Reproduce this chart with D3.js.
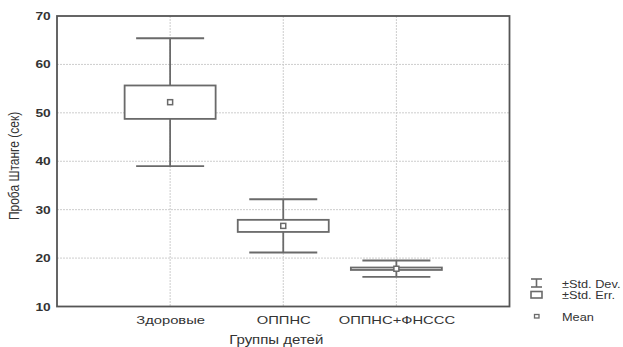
<!DOCTYPE html>
<html><head><meta charset="utf-8">
<script src="https://cdn.jsdelivr.net/npm/d3@7"></script>
<style>body{margin:0;background:#fff}text{font-family:"Liberation Sans",Arial,sans-serif}</style>
</head><body><svg id="c" width="623" height="347"></svg>
<script>
const categories = ["Здоровые", "ОППНС", "ОППНС+ФНССС"];
const means = [52.2, 26.65, 17.8];
const stdErr = [3.45, 1.25, 0.25];
const stdDev = [13.2, 5.5, 1.7];
const yTicks = [10, 20, 30, 40, 50, 60, 70];
const legendLabels = ["±Std. Dev.", "±Std. Err.", "Mean"];

const svg = d3.select("#c");
const L = 57, R = 509.5, T = 16, B = 306.5;
const SX = 1.25; // horizontal text stretch seen in the reference
const x = d3.scalePoint().domain(categories).range([L, R]).padding(1);
const y = d3.scaleLinear().domain([10, 70]).range([B, T]);
const col = "#6a6a6a";
const txt = "#333";

// grid
svg.append("g").selectAll("line").data(yTicks.slice(1, -1)).join("line")
  .attr("x1", L).attr("x2", R).attr("y1", d => y(d)).attr("y2", d => y(d))
  .attr("stroke", "#cdcdcd").attr("stroke-dasharray", "2,1").attr("stroke-width", 1);
svg.append("g").selectAll("line").data(categories).join("line")
  .attr("x1", d => x(d)).attr("x2", d => x(d)).attr("y1", T).attr("y2", B)
  .attr("stroke", "#cdcdcd").attr("stroke-dasharray", "2,1").attr("stroke-width", 1);

// axes
const ya = svg.append("g").attr("transform", `translate(${L},0)`)
  .call(d3.axisLeft(y).tickValues(yTicks).tickSize(0).tickPadding(5));
ya.select(".domain").remove();
ya.selectAll("text").attr("font-size", 11).attr("fill", txt).attr("font-weight", "bold")
  .attr("font-family", "Liberation Sans, Arial, sans-serif").attr("transform", `scale(${SX},1)`);
const xa = svg.append("g").attr("transform", `translate(0,${B})`)
  .call(d3.axisBottom(x).tickSize(0).tickPadding(9));
xa.select(".domain").remove();
xa.selectAll("text").attr("font-size", 11.8).attr("fill", txt)
  .attr("font-family", "Liberation Sans, Arial, sans-serif").attr("transform", `scale(${SX},1)`);

// frame
svg.append("rect").attr("x", L).attr("y", T).attr("width", R - L).attr("height", B - T)
  .attr("fill", "none").attr("stroke", "#555").attr("stroke-width", 1.8);

const data = categories.map((c, i) => ({c, m: means[i], se: stdErr[i], sd: stdDev[i]}));
const g = svg.append("g");
const capW = 68, boxW = 91;
data.forEach(d => {
  const cx = x(d.c);
  g.append("line").attr("x1", cx).attr("x2", cx).attr("y1", y(d.m + d.sd)).attr("y2", y(d.m - d.sd))
    .attr("stroke", col).attr("stroke-width", 1.8);
  [d.m + d.sd, d.m - d.sd].forEach(v => g.append("line").attr("x1", cx - capW / 2).attr("x2", cx + capW / 2)
    .attr("y1", y(v)).attr("y2", y(v)).attr("stroke", col).attr("stroke-width", 1.8));
  g.append("rect").attr("x", cx - boxW / 2).attr("width", boxW)
    .attr("y", y(d.m + d.se)).attr("height", Math.max(0.5, y(d.m - d.se) - y(d.m + d.se)))
    .attr("fill", "#fff").attr("stroke", col).attr("stroke-width", 1.8);
  g.append("rect").attr("x", cx - 2.5).attr("y", y(d.m) - 2.5).attr("width", 5).attr("height", 5)
    .attr("fill", "#fff").attr("stroke", col).attr("stroke-width", 1.5);
});

// axis titles
svg.append("text").attr("transform", `translate(${x(categories[1]) - 7},344) scale(${SX},1)`).attr("text-anchor", "middle")
  .attr("font-size", 12).attr("fill", txt).text("Группы детей");
svg.append("text").attr("transform", `translate(19,166) scale(${SX},1) rotate(-90)`).attr("text-anchor", "middle")
  .attr("font-size", 12).attr("fill", txt).text("Проба Штанге (сек)");

// legend
const lg = svg.append("g");
const lx = 531, lw = 11;
lg.append("line").attr("x1", lx).attr("x2", lx + lw).attr("y1", 279).attr("y2", 279).attr("stroke", col).attr("stroke-width", 1.6);
lg.append("line").attr("x1", lx).attr("x2", lx + lw).attr("y1", 287).attr("y2", 287).attr("stroke", col).attr("stroke-width", 1.6);
lg.append("line").attr("x1", lx + lw / 2).attr("x2", lx + lw / 2).attr("y1", 279).attr("y2", 287).attr("stroke", col).attr("stroke-width", 1.6);
lg.append("rect").attr("x", lx).attr("y", 291.5).attr("width", lw).attr("height", 6.5).attr("fill", "#fff").attr("stroke", col).attr("stroke-width", 1.6);
lg.append("rect").attr("x", lx + 3.5).attr("y", 314.5).attr("width", 4.5).attr("height", 3.5).attr("fill", "#fff").attr("stroke", col).attr("stroke-width", 1.3);
lg.selectAll("text").data(legendLabels).join("text")
  .attr("transform", (d, i) => `translate(562,${[284, 295, 317][i]}) scale(${SX},1)`).attr("dy", "0.35em")
  .attr("font-size", 10.2).attr("fill", txt).text(d => d);
</script></body></html>
